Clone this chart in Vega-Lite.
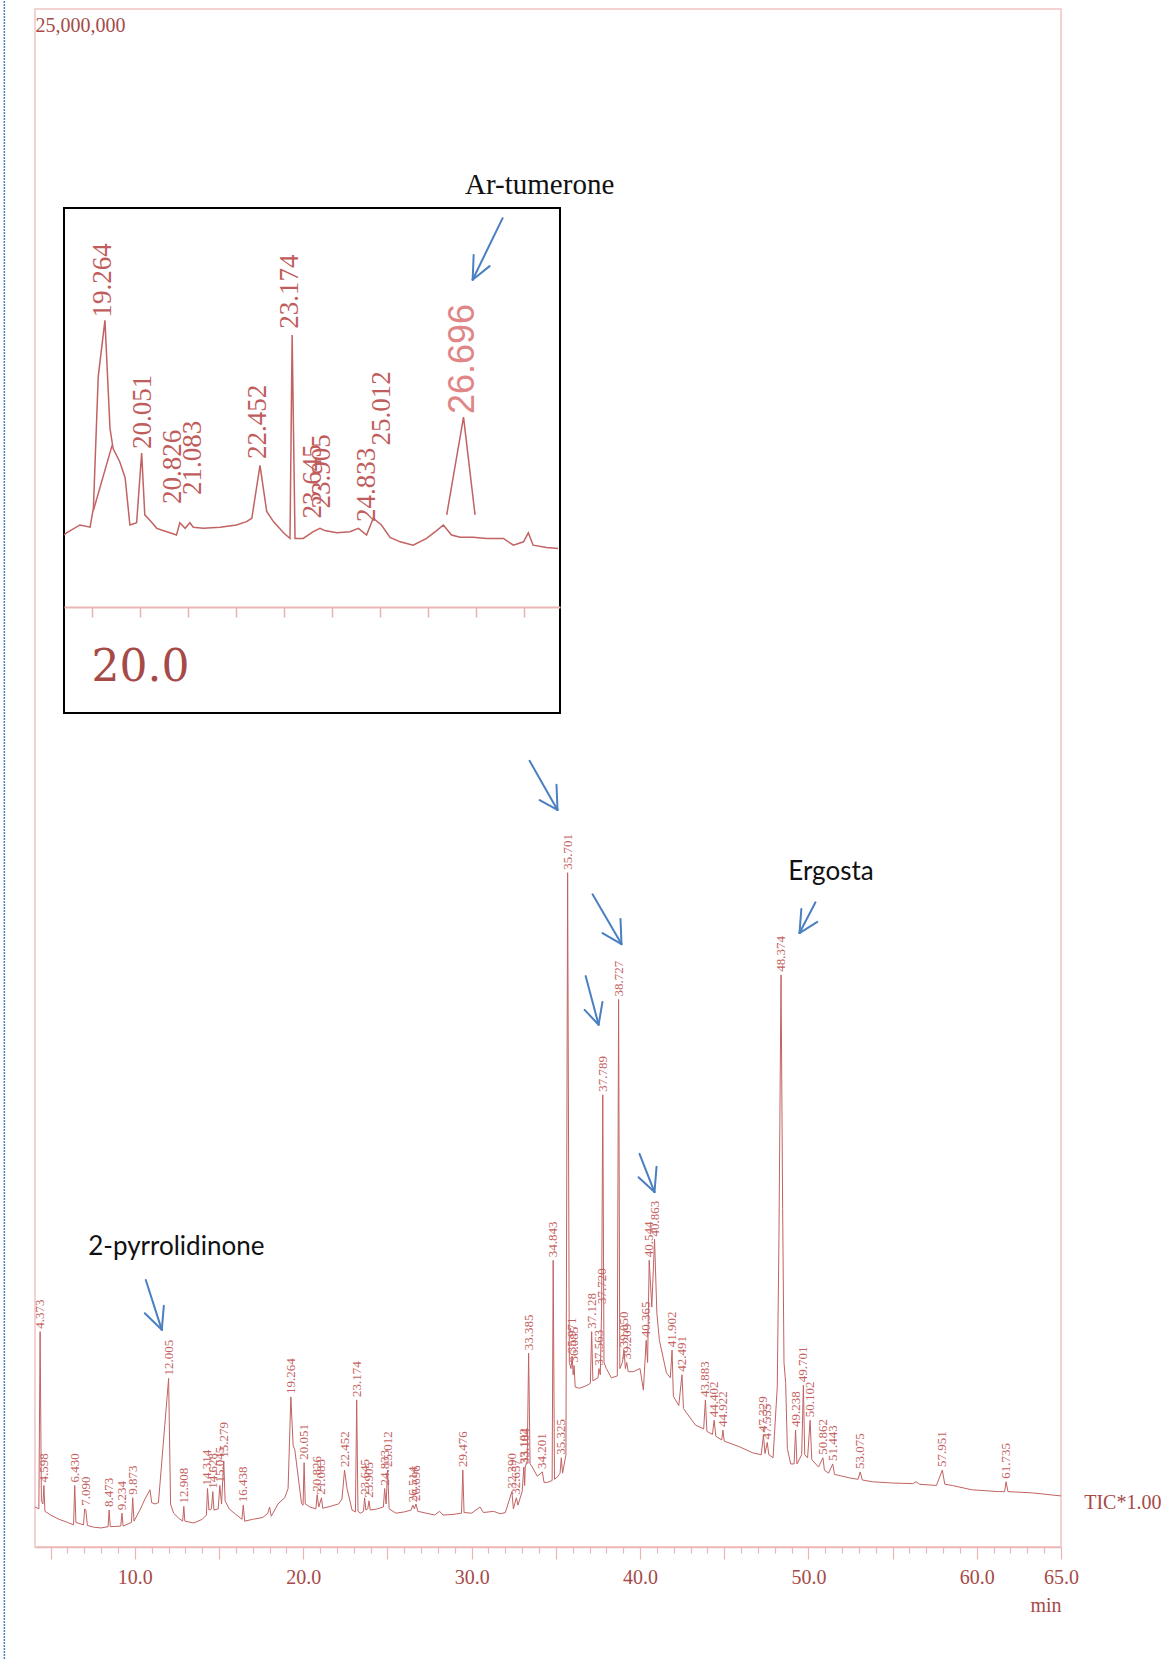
{
  "$schema": "https://vega.github.io/schema/vega-lite/v6.json",
  "width": 1026,
  "height": 1538,
  "autosize": {"type": "none"},
  "padding": {"left": 35, "top": 9, "right": 115, "bottom": 112},
  "background": "white",
  "config": {"view": {"stroke": "#f0c4c4", "strokeWidth": 1.5}},
  "datasets": {
    "signal": [
      {"t":4.07,"v":0.65},{"t":4.3,"v":0.62},{"t":4.373,"v":3.5},{"t":4.45,"v":0.75},{"t":4.54,"v":0.7},{"t":4.598,"v":1.0},{"t":4.66,"v":0.58},{"t":5.0,"v":0.52},{"t":5.5,"v":0.45},{"t":6.0,"v":0.4},{"t":6.36,"v":0.36},{"t":6.43,"v":1.0},{"t":6.5,"v":0.4},{"t":6.95,"v":0.36},{"t":7.02,"v":0.62},{"t":7.09,"v":0.6},{"t":7.18,"v":0.35},{"t":7.6,"v":0.32},{"t":8.0,"v":0.31},{"t":8.41,"v":0.33},{"t":8.473,"v":0.6},{"t":8.54,"v":0.33},{"t":9.16,"v":0.34},{"t":9.234,"v":0.55},{"t":9.3,"v":0.34},{"t":9.8,"v":0.4},{"t":9.873,"v":0.8},{"t":9.95,"v":0.42},{"t":10.3,"v":0.6},{"t":10.6,"v":0.78},{"t":10.9,"v":0.93},{"t":11.0,"v":0.72},{"t":11.2,"v":0.7},{"t":11.4,"v":0.72},{"t":12.005,"v":2.74},{"t":12.12,"v":0.7},{"t":12.3,"v":0.55},{"t":12.6,"v":0.47},{"t":12.84,"v":0.42},{"t":12.908,"v":0.66},{"t":12.97,"v":0.42},{"t":13.5,"v":0.39},{"t":14.0,"v":0.45},{"t":14.25,"v":0.52},{"t":14.314,"v":0.95},{"t":14.4,"v":0.6},{"t":14.55,"v":0.62},{"t":14.628,"v":0.9},{"t":14.7,"v":0.6},{"t":14.95,"v":0.62},{"t":15.045,"v":1.0},{"t":15.15,"v":0.7},{"t":15.279,"v":1.4},{"t":15.36,"v":0.75},{"t":15.6,"v":0.62},{"t":15.9,"v":0.55},{"t":16.36,"v":0.45},{"t":16.438,"v":0.68},{"t":16.52,"v":0.42},{"t":17.0,"v":0.45},{"t":17.6,"v":0.48},{"t":17.9,"v":0.55},{"t":18.0,"v":0.65},{"t":18.1,"v":0.5},{"t":18.5,"v":0.7},{"t":18.9,"v":0.8},{"t":19.1,"v":0.95},{"t":19.264,"v":2.44},{"t":19.4,"v":1.65},{"t":19.5,"v":1.58},{"t":19.7,"v":1.14},{"t":19.9,"v":0.71},{"t":19.99,"v":0.68},{"t":20.051,"v":1.37},{"t":20.12,"v":0.7},{"t":20.4,"v":0.65},{"t":20.75,"v":0.62},{"t":20.826,"v":0.85},{"t":20.92,"v":0.65},{"t":21.083,"v":0.8},{"t":21.16,"v":0.63},{"t":21.6,"v":0.66},{"t":22.1,"v":0.7},{"t":22.3,"v":0.78},{"t":22.452,"v":1.25},{"t":22.6,"v":0.95},{"t":22.9,"v":0.6},{"t":23.1,"v":0.57},{"t":23.174,"v":2.39},{"t":23.25,"v":0.58},{"t":23.4,"v":0.55},{"t":23.58,"v":0.58},{"t":23.645,"v":0.8},{"t":23.72,"v":0.6},{"t":23.83,"v":0.62},{"t":23.905,"v":0.75},{"t":23.98,"v":0.6},{"t":24.4,"v":0.62},{"t":24.76,"v":0.65},{"t":24.833,"v":0.95},{"t":24.92,"v":0.7},{"t":25.012,"v":1.25},{"t":25.1,"v":0.62},{"t":25.5,"v":0.55},{"t":26.0,"v":0.57},{"t":26.4,"v":0.6},{"t":26.514,"v":0.68},{"t":26.6,"v":0.62},{"t":26.696,"v":0.7},{"t":26.8,"v":0.58},{"t":27.3,"v":0.55},{"t":27.8,"v":0.52},{"t":28.1,"v":0.58},{"t":28.3,"v":0.52},{"t":28.9,"v":0.53},{"t":29.4,"v":0.55},{"t":29.476,"v":1.25},{"t":29.55,"v":0.56},{"t":30.0,"v":0.55},{"t":30.5,"v":0.65},{"t":30.7,"v":0.56},{"t":31.3,"v":0.58},{"t":31.7,"v":0.54},{"t":32.0,"v":0.56},{"t":32.39,"v":0.9},{"t":32.48,"v":0.62},{"t":32.657,"v":0.8},{"t":32.75,"v":0.68},{"t":33.0,"v":0.9},{"t":33.102,"v":1.3},{"t":33.15,"v":1.0},{"t":33.184,"v":1.3},{"t":33.3,"v":1.4},{"t":33.385,"v":3.15},{"t":33.47,"v":1.35},{"t":33.6,"v":1.3},{"t":33.9,"v":1.15},{"t":34.201,"v":1.22},{"t":34.3,"v":1.05},{"t":34.5,"v":1.05},{"t":34.78,"v":1.08},{"t":34.843,"v":4.66},{"t":34.92,"v":1.1},{"t":35.1,"v":1.14},{"t":35.25,"v":1.2},{"t":35.325,"v":1.45},{"t":35.4,"v":1.2},{"t":35.6,"v":1.5},{"t":35.701,"v":10.96},{"t":35.8,"v":3.0},{"t":35.9,"v":2.9},{"t":35.971,"v":3.1},{"t":36.03,"v":2.8},{"t":36.085,"v":2.95},{"t":36.15,"v":2.6},{"t":36.4,"v":2.58},{"t":36.8,"v":2.62},{"t":37.05,"v":2.66},{"t":37.128,"v":3.5},{"t":37.2,"v":2.7},{"t":37.5,"v":2.75},{"t":37.563,"v":2.9},{"t":37.64,"v":2.8},{"t":37.72,"v":3.9},{"t":37.789,"v":7.35},{"t":37.86,"v":3.0},{"t":38.0,"v":2.9},{"t":38.3,"v":2.75},{"t":38.65,"v":2.78},{"t":38.727,"v":8.9},{"t":38.8,"v":2.9},{"t":38.95,"v":3.0},{"t":39.05,"v":3.2},{"t":39.13,"v":2.9},{"t":39.209,"v":3.0},{"t":39.3,"v":2.85},{"t":39.6,"v":2.85},{"t":40.0,"v":2.9},{"t":40.2,"v":2.55},{"t":40.365,"v":3.36},{"t":40.45,"v":3.0},{"t":40.544,"v":4.66},{"t":40.7,"v":3.9},{"t":40.863,"v":5.0},{"t":41.0,"v":3.8},{"t":41.15,"v":3.36},{"t":41.57,"v":2.83},{"t":41.8,"v":2.75},{"t":41.902,"v":3.2},{"t":41.98,"v":2.45},{"t":42.3,"v":2.3},{"t":42.491,"v":2.8},{"t":42.58,"v":2.25},{"t":42.76,"v":2.18},{"t":43.3,"v":1.98},{"t":43.78,"v":1.92},{"t":43.883,"v":2.39},{"t":43.97,"v":1.88},{"t":44.3,"v":1.83},{"t":44.402,"v":2.06},{"t":44.5,"v":1.8},{"t":44.85,"v":1.74},{"t":44.922,"v":1.9},{"t":45.0,"v":1.72},{"t":45.9,"v":1.63},{"t":46.7,"v":1.53},{"t":47.2,"v":1.5},{"t":47.329,"v":1.82},{"t":47.42,"v":1.52},{"t":47.555,"v":1.7},{"t":47.65,"v":1.5},{"t":47.9,"v":1.45},{"t":48.15,"v":2.6},{"t":48.25,"v":5.0},{"t":48.374,"v":9.3},{"t":48.47,"v":5.5},{"t":48.55,"v":3.0},{"t":48.65,"v":2.66},{"t":48.75,"v":1.6},{"t":48.95,"v":1.35},{"t":49.15,"v":1.35},{"t":49.238,"v":1.9},{"t":49.32,"v":1.35},{"t":49.6,"v":1.5},{"t":49.701,"v":2.63},{"t":49.78,"v":1.5},{"t":49.95,"v":1.45},{"t":50.102,"v":2.06},{"t":50.2,"v":1.42},{"t":50.6,"v":1.3},{"t":50.862,"v":1.45},{"t":50.95,"v":1.25},{"t":51.2,"v":1.2},{"t":51.443,"v":1.35},{"t":51.55,"v":1.18},{"t":52.5,"v":1.12},{"t":52.95,"v":1.1},{"t":53.075,"v":1.22},{"t":53.2,"v":1.09},{"t":53.8,"v":1.06},{"t":55.0,"v":1.04},{"t":56.2,"v":1.03},{"t":56.4,"v":1.06},{"t":56.6,"v":1.02},{"t":57.6,"v":1.0},{"t":57.951,"v":1.25},{"t":58.1,"v":1.02},{"t":58.55,"v":1.0},{"t":59.7,"v":0.93},{"t":61.3,"v":0.9},{"t":61.65,"v":0.9},{"t":61.735,"v":1.06},{"t":61.85,"v":0.9},{"t":63.3,"v":0.88},{"t":65.0,"v":0.83}
    ],
    "peaks": [
      {"t":4.373,"v":3.5,"label":"4.373"},{"t":4.598,"v":1.0,"label":"4.598"},{"t":6.43,"v":1.0,"label":"6.430"},{"t":7.09,"v":0.62,"label":"7.090"},{"t":8.473,"v":0.6,"label":"8.473"},{"t":9.234,"v":0.55,"label":"9.234"},{"t":9.873,"v":0.8,"label":"9.873"},{"t":12.005,"v":2.74,"label":"12.005"},{"t":12.908,"v":0.66,"label":"12.908"},{"t":14.314,"v":0.95,"label":"14.314"},{"t":14.628,"v":0.9,"label":"14.628"},{"t":15.045,"v":1.0,"label":"15.045"},{"t":15.279,"v":1.4,"label":"15.279"},{"t":16.438,"v":0.68,"label":"16.438"},{"t":19.264,"v":2.44,"label":"19.264"},{"t":20.051,"v":1.37,"label":"20.051"},{"t":20.826,"v":0.85,"label":"20.826"},{"t":21.083,"v":0.8,"label":"21.083"},{"t":22.452,"v":1.25,"label":"22.452"},{"t":23.174,"v":2.39,"label":"23.174"},{"t":23.645,"v":0.8,"label":"23.645"},{"t":23.905,"v":0.75,"label":"23.905"},{"t":24.833,"v":0.95,"label":"24.833"},{"t":25.012,"v":1.25,"label":"25.012"},{"t":26.514,"v":0.68,"label":"26.514"},{"t":26.696,"v":0.7,"label":"26.696"},{"t":29.476,"v":1.25,"label":"29.476"},{"t":32.39,"v":0.9,"label":"32.390"},{"t":32.657,"v":0.8,"label":"32.657"},{"t":33.102,"v":1.3,"label":"33.102"},{"t":33.184,"v":1.3,"label":"33.184"},{"t":33.385,"v":3.15,"label":"33.385"},{"t":34.201,"v":1.22,"label":"34.201"},{"t":34.843,"v":4.66,"label":"34.843"},{"t":35.325,"v":1.45,"label":"35.325"},{"t":35.701,"v":10.96,"label":"35.701"},{"t":35.971,"v":3.1,"label":"35.971"},{"t":36.085,"v":2.95,"label":"36.085"},{"t":37.128,"v":3.5,"label":"37.128"},{"t":37.563,"v":2.9,"label":"37.563"},{"t":37.72,"v":3.9,"label":"37.720"},{"t":37.789,"v":7.35,"label":"37.789"},{"t":38.727,"v":8.9,"label":"38.727"},{"t":39.05,"v":3.2,"label":"39.050"},{"t":39.209,"v":3.0,"label":"39.209"},{"t":40.365,"v":3.36,"label":"40.365"},{"t":40.544,"v":4.66,"label":"40.544"},{"t":40.863,"v":5.0,"label":"40.863"},{"t":41.902,"v":3.2,"label":"41.902"},{"t":42.491,"v":2.8,"label":"42.491"},{"t":43.883,"v":2.39,"label":"43.883"},{"t":44.402,"v":2.06,"label":"44.402"},{"t":44.922,"v":1.9,"label":"44.922"},{"t":47.329,"v":1.82,"label":"47.329"},{"t":47.555,"v":1.7,"label":"47.555"},{"t":48.374,"v":9.3,"label":"48.374"},{"t":49.238,"v":1.9,"label":"49.238"},{"t":49.701,"v":2.63,"label":"49.701"},{"t":50.102,"v":2.06,"label":"50.102"},{"t":50.862,"v":1.45,"label":"50.862"},{"t":51.443,"v":1.35,"label":"51.443"},{"t":53.075,"v":1.22,"label":"53.075"},{"t":57.951,"v":1.25,"label":"57.951"},{"t":61.735,"v":1.06,"label":"61.735"}
    ],
    "arrows": [
      {"t":31.84,"v":21.6,"t2":30.06,"v2":20.6},{"t":30.06,"v":20.6,"t2":30.12,"v2":21.0},{"t":30.06,"v":20.6,"t2":31.07,"v2":20.82},
      {"t":10.65,"v":4.34,"t2":11.6,"v2":3.53},{"t":11.6,"v":3.53,"t2":10.59,"v2":3.8},{"t":11.6,"v":3.53,"t2":11.72,"v2":3.92},
      {"t":50.42,"v":10.48,"t2":49.47,"v2":9.98},{"t":49.47,"v":9.98,"t2":50.53,"v2":10.16},{"t":49.47,"v":9.98,"t2":49.58,"v2":10.37},
      {"t":33.44,"v":12.78,"t2":35.1,"v2":11.98},{"t":35.1,"v":11.98,"t2":34.04,"v2":12.14},{"t":35.1,"v":11.98,"t2":35.04,"v2":12.39},
      {"t":37.18,"v":10.61,"t2":38.9,"v2":9.8},{"t":38.9,"v":9.8,"t2":37.77,"v2":9.98},{"t":38.9,"v":9.8,"t2":38.84,"v2":10.21},
      {"t":36.77,"v":9.28,"t2":37.54,"v2":8.49},{"t":37.54,"v":8.49,"t2":36.71,"v2":8.73},{"t":37.54,"v":8.49,"t2":37.77,"v2":8.86},
      {"t":39.97,"v":6.39,"t2":40.86,"v2":5.77},{"t":40.86,"v":5.77,"t2":39.91,"v2":6.01},{"t":40.86,"v":5.77,"t2":40.98,"v2":6.18}
    ],
    "notesSans": [
      {"t":12.46,"v":4.88,"label":"2-pyrrolidinone"},
      {"t":51.34,"v":10.97,"label":"Ergosta"}
    ],
    "notesSerif": [
      {"t":34.04,"v":22.14,"label":"Ar-tumerone"}
    ],
    "frameText": [
      {"t":4.1,"v":24.72,"label":"25,000,000"},
      {"t":66.38,"v":0.72,"label":"TIC*1.00"}
    ],
    "edge": [
      {"t":2.25,"v":-1.82,"v2":25.15}
    ],
    "inset": [
      {"s":"sig","t":18.42,"v":0.64},{"s":"sig","t":18.47,"v":0.66},{"s":"sig","t":18.75,"v":0.73},{"s":"sig","t":18.96,"v":0.71},{"s":"sig","t":19.03,"v":0.88},{"s":"sig","t":19.13,"v":2.05},{"s":"sig","t":19.27,"v":2.55},{"s":"sig","t":19.375,"v":1.59},{"s":"sig","t":19.44,"v":1.41},{"s":"sig","t":19.58,"v":1.29},{"s":"sig","t":19.69,"v":1.15},{"s":"sig","t":19.79,"v":0.73},{"s":"sig","t":19.93,"v":0.75},{"s":"sig","t":20.035,"v":1.37},{"s":"sig","t":20.1,"v":0.82},{"s":"sig","t":20.21,"v":0.77},{"s":"sig","t":20.35,"v":0.7},{"s":"sig","t":20.48,"v":0.68},{"s":"sig","t":20.625,"v":0.66},{"s":"sig","t":20.76,"v":0.64},{"s":"sig","t":20.83,"v":0.75},{"s":"sig","t":20.94,"v":0.7},{"s":"sig","t":21.04,"v":0.75},{"s":"sig","t":21.11,"v":0.71},{"s":"sig","t":21.32,"v":0.7},{"s":"sig","t":21.67,"v":0.71},{"s":"sig","t":22.01,"v":0.73},{"s":"sig","t":22.22,"v":0.76},{"s":"sig","t":22.33,"v":0.79},{"s":"sig","t":22.5,"v":1.26},{"s":"sig","t":22.64,"v":0.85},{"s":"sig","t":22.78,"v":0.76},{"s":"sig","t":22.99,"v":0.66},{"s":"sig","t":23.125,"v":0.61},{"s":"sig","t":23.17,"v":2.42},{"s":"sig","t":23.23,"v":0.61},{"s":"sig","t":23.4,"v":0.61},{"s":"sig","t":23.61,"v":0.67},{"s":"sig","t":23.75,"v":0.7},{"s":"sig","t":23.85,"v":0.68},{"s":"sig","t":24.1,"v":0.66},{"s":"sig","t":24.375,"v":0.67},{"s":"sig","t":24.55,"v":0.7},{"s":"sig","t":24.72,"v":0.64},{"s":"sig","t":24.86,"v":0.79},{"s":"sig","t":25.03,"v":0.73},{"s":"sig","t":25.21,"v":0.62},{"s":"sig","t":25.42,"v":0.58},{"s":"sig","t":25.69,"v":0.55},{"s":"sig","t":25.97,"v":0.61},{"s":"sig","t":26.18,"v":0.68},{"s":"sig","t":26.32,"v":0.73},{"s":"sig","t":26.49,"v":0.64},{"s":"sig","t":26.67,"v":0.62},{"s":"sig","t":26.94,"v":0.62},{"s":"sig","t":27.22,"v":0.61},{"s":"sig","t":27.57,"v":0.61},{"s":"sig","t":27.78,"v":0.55},{"s":"sig","t":27.99,"v":0.58},{"s":"sig","t":28.09,"v":0.66},{"s":"sig","t":28.19,"v":0.55},{"s":"sig","t":28.47,"v":0.53},{"s":"sig","t":28.71,"v":0.52},
      {"s":"tri","t":26.39,"v":0.82},{"s":"tri","t":26.74,"v":1.69},{"s":"tri","t":26.98,"v":0.82},
      {"s":"tri2","t":19.03,"v":0.86},{"s":"tri2","t":19.42,"v":1.44}
    ],
    "insetLabels": [
      {"t":19.23,"v":2.55,"label":"19.264"},{"t":20.06,"v":1.38,"label":"20.051"},{"t":20.69,"v":0.89,"label":"20.826"},{"t":21.1,"v":0.97,"label":"21.083"},{"t":22.46,"v":1.29,"label":"22.452"},{"t":23.13,"v":2.45,"label":"23.174"},{"t":23.6,"v":0.76,"label":"23.645"},{"t":23.8,"v":0.85,"label":"23.905"},{"t":24.73,"v":0.73,"label":"24.833"},{"t":25.04,"v":1.41,"label":"25.012"}
    ],
    "insetBig": [
      {"t":26.73,"v":1.69,"label":"26.696"}
    ],
    "box": [
      {"t":18.417,"v":-0.943,"t2":28.75,"v2":3.55}
    ]
  },
  "layer": [
    {
      "encoding": {
        "x": {"field": "t", "type": "quantitative",
          "scale": {"domain": [4.07, 65], "nice": false, "zero": false},
          "axis": {
            "values": [5,6,7,8,9,10,11,12,13,14,15,16,17,18,19,20,21,22,23,24,25,26,27,28,29,30,31,32,33,34,35,36,37,38,39,40,41,42,43,44,45,46,47,48,49,50,51,52,53,54,55,56,57,58,59,60,61,62,63,64,65],
            "labelExpr": "datum.value % 10 === 0 || datum.value === 65 ? format(datum.value, '.1f') : ''",
            "tickSize": {"condition": {"test": "datum.value % 5 === 0", "value": 12}, "value": 6},
            "tickColor": "#ebb5b5", "tickWidth": 1.2,
            "domainColor": "#ebb5b5", "domainWidth": 1.5,
            "labelFont": "Liberation Serif", "labelFontSize": 20, "labelColor": "#a64a48",
            "labelPadding": 8, "labelOverlap": false, "labelFlush": false, "labelBound": false,
            "title": "min", "titleFont": "Liberation Serif", "titleFontSize": 20, "titleFontWeight": "normal",
            "titleColor": "#a64a48", "titleAnchor": "end", "titlePadding": 8, "grid": false
          }},
        "y": {"field": "v", "type": "quantitative",
          "scale": {"domain": [0, 25], "nice": false, "zero": false}, "axis": null}
      },
      "layer": [
        {"data": {"name": "edge"}, "mark": {"type": "rule", "color": "#4f81bd", "strokeWidth": 1.5, "strokeDash": [2, 1]},
         "encoding": {"y2": {"field": "v2"}}},
        {"data": {"name": "signal"}, "mark": {"type": "line", "color": "#c26262", "strokeWidth": 1, "interpolate": "linear"}},
        {"data": {"name": "peaks"}, "mark": {"type": "text", "angle": 270, "align": "left", "baseline": "middle", "dx": 3, "font": "Liberation Serif", "fontSize": 13, "color": "#c46262"},
         "encoding": {"text": {"field": "label"}}},
        {"data": {"name": "arrows"}, "mark": {"type": "rule", "color": "#4a7fc1", "strokeWidth": 2, "strokeCap": "round"},
         "encoding": {"x2": {"field": "t2"}, "y2": {"field": "v2"}}},
        {"data": {"name": "notesSans"}, "mark": {"type": "text", "font": "Lato", "fontSize": 26, "color": "#111111", "align": "center", "baseline": "middle"},
         "encoding": {"text": {"field": "label"}}},
        {"data": {"name": "notesSerif"}, "mark": {"type": "text", "font": "Liberation Serif", "fontSize": 29, "color": "#111111", "align": "center", "baseline": "middle"},
         "encoding": {"text": {"field": "label"}}},
        {"data": {"name": "frameText"}, "mark": {"type": "text", "font": "Liberation Serif", "fontSize": 20, "color": "#a64a48", "align": "left", "baseline": "middle"},
         "encoding": {"text": {"field": "label"}}}
      ]
    },
    {
      "encoding": {
        "x": {"field": "t", "type": "quantitative",
          "scale": {"domain": [18.417, 28.75], "range": [29, 525], "nice": false, "zero": false},
          "axis": {
            "orient": "bottom", "offset": -940,
            "values": [19,20,21,22,23,24,25,26,27,28],
            "labelExpr": "datum.value === 20 ? '20.0' : ''",
            "tickSize": 10, "tickColor": "#e8b0b0", "tickWidth": 1.5,
            "domainColor": "#ebb5b5", "domainWidth": 2,
            "labelFont": "DejaVu Serif", "labelFontSize": 44, "labelColor": "#a64a48",
            "labelPadding": 28, "labelOverlap": false, "labelFlush": false, "labelBound": false,
            "title": null, "grid": false, "zindex": 1
          }},
        "y": {"field": "v", "type": "quantitative",
          "scale": {"domain": [-0.943, 3.55], "range": [704, 199], "nice": false, "zero": false}, "axis": null}
      },
      "layer": [
        {"data": {"name": "box"}, "mark": {"type": "rect", "filled": false, "stroke": "#000000", "strokeWidth": 2},
         "encoding": {"x2": {"field": "t2"}, "y2": {"field": "v2"}}},
        {"data": {"name": "inset"}, "mark": {"type": "line", "color": "#c26262", "strokeWidth": 1.5},
         "encoding": {"detail": {"field": "s"}}},
        {"data": {"name": "insetLabels"}, "mark": {"type": "text", "angle": 270, "align": "left", "baseline": "middle", "dx": 3, "font": "Liberation Serif", "fontSize": 27, "color": "#c05c5c"},
         "encoding": {"text": {"field": "label"}}},
        {"data": {"name": "insetBig"}, "mark": {"type": "text", "angle": 270, "align": "left", "baseline": "middle", "dx": 3, "font": "Liberation Sans", "fontSize": 36, "color": "#e08686"},
         "encoding": {"text": {"field": "label"}}}
      ]
    }
  ],
  "resolve": {"scale": {"x": "independent", "y": "independent"}, "axis": {"x": "independent", "y": "independent"}}
}
